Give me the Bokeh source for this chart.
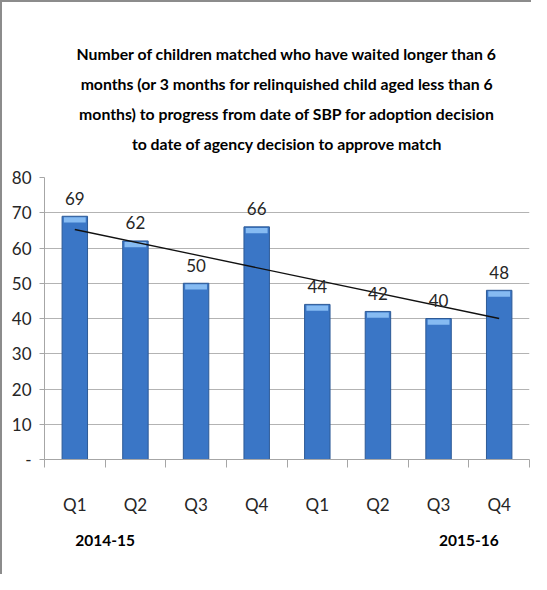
import numpy as np
from bokeh.plotting import figure
from bokeh.models import Range1d, FixedTicker, LinearAxis, Title, ColumnDataSource, InlineStyleSheet
from bokeh.core.properties import value
from bokeh.embed import file_html
from bokeh.resources import INLINE

# ---- data ----
quarters = ["Q1", "Q2", "Q3", "Q4", "Q1", "Q2", "Q3", "Q4"]
counts = [69, 62, 50, 66, 44, 42, 40, 48]
years = ["2014-15", "2015-16"]
year_pos = [1.5, 7.5]
y_ticks = [0, 10, 20, 30, 40, 50, 60, 70, 80]
y_tick_labels = ["-", "10", "20", "30", "40", "50", "60", "70", "80"]
title_lines = [
    "Number of children matched who have waited longer than 6",
    "months (or 3 months for relinquished child aged less than 6",
    "months) to progress from date of SBP for adoption decision",
    "to date of agency decision to approve match",
]

FONT = "Lato"

xs = list(range(1, len(counts) + 1))
src = ColumnDataSource(dict(x=xs, y=counts, lab=[str(c) for c in counts]))

p = figure(width=531, height=574, output_backend="svg", toolbar_location=None,
           x_range=Range1d(0.5, len(counts) + 0.5), y_range=Range1d(0, 80),
           x_axis_location=None, y_axis_location=None,
           min_border_left=44, min_border_right=2, min_border_top=177,
           min_border_bottom=115)
p.background_fill_color = "white"
p.border_fill_color = None
p.outline_line_color = None
p.stylesheets = [InlineStyleSheet(css=":host { background: white; box-shadow: inset 2px 2px 0 #8c8c8c; }")]

# spacer between the title block and the plot
p.add_layout(Title(text=" ", text_font_size="2px", standoff=15.5), "above")
# one Title per line; the first added sits closest to the plot
for line in reversed(title_lines):
    p.add_layout(Title(text=line, align="center", text_font=FONT,
                       text_font_size="15.8px", text_font_style="bold",
                       text_color="#000000", standoff=9.25), "above")

# y axis
yax = LinearAxis(ticker=FixedTicker(ticks=y_ticks),
                 major_label_overrides={t: l for t, l in zip(y_ticks, y_tick_labels)})
yax.axis_line_color = "#a6a6a6"
yax.major_tick_line_color = "#a6a6a6"
yax.major_tick_out = 5
yax.major_tick_in = 0
yax.minor_tick_line_color = None
yax.major_label_text_font = FONT
yax.major_label_text_font_size = "17px"
yax.major_label_text_color = "#262626"
yax.major_label_standoff = 8
p.add_layout(yax, "left")

# x axis with quarter labels, boundary ticks as minor ticks
xax = LinearAxis(ticker=FixedTicker(ticks=xs, minor_ticks=[x - 0.5 for x in xs] + [xs[-1] + 0.5]),
                 major_label_overrides={x: q for x, q in zip(xs, quarters)})
xax.axis_line_color = "#a6a6a6"
xax.major_tick_line_color = None
xax.major_tick_out = 0
xax.major_tick_in = 0
xax.minor_tick_line_color = "#a6a6a6"
xax.minor_tick_out = 8
xax.minor_tick_in = 0
xax.major_label_text_font = FONT
xax.major_label_text_font_size = "17px"
xax.major_label_text_color = "#262626"
xax.major_label_standoff = 26
p.add_layout(xax, "below")

# year axis
yrax = LinearAxis(ticker=FixedTicker(ticks=year_pos, minor_ticks=[]),
                  major_label_overrides={x: y for x, y in zip(year_pos, years)})
yrax.axis_line_color = None
yrax.major_tick_line_color = None
yrax.minor_tick_line_color = None
yrax.major_label_text_font = FONT
yrax.major_label_text_font_size = "15.5px"
yrax.major_label_text_font_style = "bold"
yrax.major_label_text_color = "#000000"
yrax.major_label_standoff = 11
p.add_layout(yrax, "below")

p.xgrid.visible = False
p.ygrid.ticker = FixedTicker(ticks=y_ticks)
p.ygrid.grid_line_color = "#b3b3b3"
p.ygrid.grid_line_width = 1

# bars
p.vbar(x="x", top="y", bottom=0, width=0.42, source=src,
       fill_color="#3a76c6", line_color="#2d5a96", line_width=1)
# top highlight cap
cap_src = ColumnDataSource(dict(x=xs, top=[c - 0.3 for c in counts],
                                bottom=[c - 1.8 for c in counts]))
p.vbar(x="x", top="top", bottom="bottom", width=0.36, source=cap_src,
       fill_color="#86bbf2", line_color=None)

# trend line (least squares)
coef = np.polyfit(xs, counts, 1)
trend_x = [xs[0], xs[-1]]
trend_y = [float(np.polyval(coef, v)) for v in trend_x]
p.line(trend_x, trend_y, line_color="#111111", line_width=1.3)

# data labels
p.text(x="x", y="y", text="lab", source=src, y_offset=-18,
       text_align="center", text_baseline="middle",
       text_font=value(FONT), text_font_size="17px", text_color="#262626")

open("out.html", "w").write(file_html(p, INLINE))
